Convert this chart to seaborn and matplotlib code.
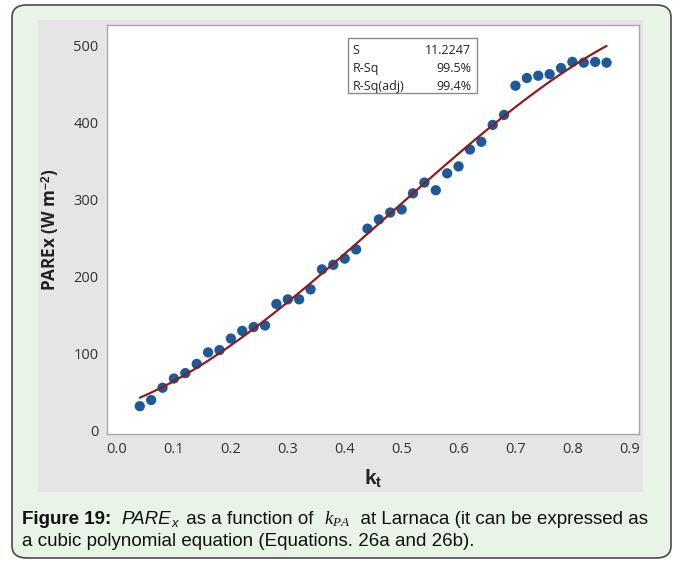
import matplotlib
matplotlib.use("Agg")
import matplotlib.pyplot as plt
from matplotlib.patches import FancyBboxPatch, Rectangle
import numpy as np
import pandas as pd
import seaborn as sns

# data
kt = [0.04, 0.06, 0.08, 0.10, 0.12, 0.14, 0.16, 0.18, 0.20, 0.22,
      0.24, 0.26, 0.28, 0.30, 0.32, 0.34, 0.36, 0.38, 0.40, 0.42,
      0.44, 0.46, 0.48, 0.50, 0.52, 0.54, 0.56, 0.58, 0.60, 0.62,
      0.64, 0.66, 0.68, 0.70, 0.72, 0.74, 0.76, 0.78, 0.80, 0.82,
      0.84, 0.86]
parex = [31, 39, 55, 67, 74, 86, 101, 104, 119, 129,
         134, 136, 164, 170, 170, 183, 209, 215, 223, 235,
         262, 274, 283, 287, 308, 322, 312, 334, 343, 365,
         375, 397, 410, 448, 458, 461, 463, 471, 479, 478,
         479, 478]
stat_names = ["S", "R-Sq", "R-Sq(adj)"]
stat_values = ["11.2247", "99.5%", "99.4%"]
x_ticks = [0.0, 0.1, 0.2, 0.3, 0.4, 0.5, 0.6, 0.7, 0.8, 0.9]
y_ticks = [0, 100, 200, 300, 400, 500]

df = pd.DataFrame({"kt": kt, "parex": parex})

sns.set_style("white")
plt.rcParams["font.family"] = ["Open Sans", "DejaVu Sans"]
plt.rcParams["mathtext.fontset"] = "custom"
plt.rcParams["mathtext.rm"] = "Liberation Sans"
plt.rcParams["mathtext.bf"] = "Liberation Sans:bold"
plt.rcParams["mathtext.sf"] = "Liberation Sans:italic"
plt.rcParams["mathtext.it"] = "Liberation Serif:italic"

W, H = 675, 561
fig = plt.figure(figsize=(W / 100, H / 100), dpi=100)

# outer rounded frame and minitab gray panel
fig.patches.append(FancyBboxPatch((12 / W, 1 - 558 / H), 659 / W, 553 / H,
                                  boxstyle="round,pad=0,rounding_size=0.022",
                                  transform=fig.transFigure, facecolor="#EAF3E7",
                                  edgecolor="#4A4A4A", linewidth=1.2, zorder=0))
fig.patches.append(Rectangle((38 / W, 1 - 492 / H), 605 / W, 472 / H,
                             transform=fig.transFigure, facecolor="#E5E5E5",
                             edgecolor="none", zorder=1))

ax = fig.add_axes([107 / W, 1 - 434 / H, 532 / W, 409 / H])
ax.set_zorder(5)
ax.set_facecolor("white")

sns.scatterplot(data=df, x="kt", y="parex", ax=ax, color="#1D5A98",
                s=55, edgecolor="none", zorder=2)
sns.regplot(data=df, x="kt", y="parex", ax=ax, order=3, ci=None, scatter=False,
            line_kws={"color": "#8E1C1C", "lw": 1.6, "zorder": 3})

ax.set_xlim(-0.0176, 0.917)
ax.set_ylim(-5.2, 527)
ax.set_xticks(x_ticks)
ax.set_xticklabels([f"{t:.1f}" for t in x_ticks])
ax.set_yticks(y_ticks)
ax.tick_params(axis="both", direction="out", length=4, width=0.8,
               color="#9A9A9A", labelcolor="#333333", labelsize=10.5, pad=2)
for sp in ax.spines.values():
    sp.set_color("#A8A8A8")
    sp.set_linewidth(1.0)

ax.set_xlabel(r"$\mathbf{k_t}$", fontsize=15, color="#222222")
ax.set_ylabel(r"PAREx (W m$^{\mathbf{-2}}$)", fontsize=12.3, fontweight="bold",
              color="#222222")
ax.xaxis.set_label_coords(0.5, -0.083)
ax.yaxis.set_label_coords(-0.085, 0.5)

# summary box
ax.add_patch(Rectangle((0.453, 0.834), 0.242, 0.134, transform=ax.transAxes,
                       facecolor="white", edgecolor="#8A8A8A", lw=1.0, zorder=4))
for i, (nm, val) in enumerate(zip(stat_names, stat_values)):
    yy = 0.937 - i * 0.044
    ax.text(0.461, yy, nm, transform=ax.transAxes, fontsize=9, va="center",
            ha="left", color="#222222", zorder=5)
    ax.text(0.685, yy, val, transform=ax.transAxes, fontsize=9, va="center",
            ha="right", color="#222222", zorder=5)

# caption, written piece by piece so fonts can change along the line
renderer = fig.canvas.get_renderer()


def write_row(x0, y0, pieces, size=13.5):
    x = x0
    for txt, kw in pieces:
        t = fig.text(x / W, 1 - y0 / H, txt, fontsize=size, va="baseline",
                     ha="left", color="#111111", **kw)
        bb = t.get_window_extent(renderer=renderer)
        x += bb.width


sans = {"family": "Liberation Sans"}
write_row(22, 524, [
    ("Figure 19:", {"family": "Liberation Sans", "fontweight": "bold"}),
    ("  ", sans),
    ("PARE", {"family": "Liberation Sans", "style": "italic"}),
    (r"$_{\mathsf{x}}$", sans),
    (" as a function of  ", sans),
    (r"$k_{PA}$", sans),
    ("  at Larnaca (it can be expressed as", sans),
])
write_row(22, 546, [("a cubic polynomial equation (Equations. 26a and 26b).", sans)])

fig.savefig("out.png", dpi=100)
